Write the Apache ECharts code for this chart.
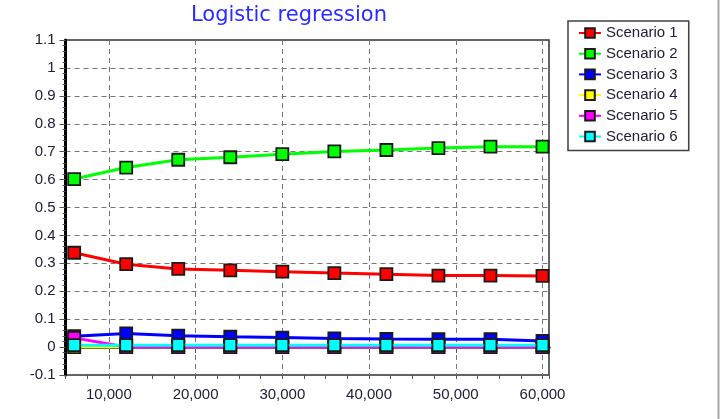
<!DOCTYPE html>
<html>
<head>
<meta charset="utf-8">
<script src="https://cdn.jsdelivr.net/npm/echarts@6/dist/echarts.min.js"></script>
<style>
html,body{margin:0;padding:0;background:#fff;}
#chart{width:721px;height:419px;}
</style>
</head>
<body>
<div id="chart"></div>
<script>
var titleText = 'Logistic regression';
var xValues = [6000, 12000, 18000, 24000, 30000, 36000, 42000, 48000, 54000, 60000];
var seriesNames = ['Scenario 1', 'Scenario 2', 'Scenario 3', 'Scenario 4', 'Scenario 5', 'Scenario 6'];
var scenario1 = [0.338, 0.297, 0.280, 0.275, 0.270, 0.265, 0.261, 0.256, 0.256, 0.255];
var scenario2 = [0.602, 0.643, 0.671, 0.680, 0.691, 0.701, 0.706, 0.713, 0.718, 0.718];
var scenario3 = [0.039, 0.049, 0.041, 0.037, 0.034, 0.031, 0.029, 0.028, 0.028, 0.022];
var scenario4 = [0.000, 0.000, 0.000, 0.000, 0.000, 0.000, 0.000, 0.000, 0.000, 0.000];
var scenario5 = [0.033, 0.000, 0.000, 0.000, 0.000, 0.000, 0.000, 0.000, 0.000, 0.000];
var scenario6 = [0.007, 0.007, 0.007, 0.007, 0.007, 0.007, 0.007, 0.007, 0.007, 0.007];
var colors = ['#ff0000', '#00ff00', '#0000ff', '#ffff00', '#ff00ff', '#00ffff'];
var allSeries = [scenario1, scenario2, scenario3, scenario4, scenario5, scenario6];

var chart = echarts.init(document.getElementById('chart'), null, {renderer: 'canvas'});

function pairs(vals) {
  return vals.map(function (v, i) { return [xValues[i], v]; });
}

var labelFont = {color: '#20203a', fontSize: 15, fontFamily: 'Liberation Sans, Arial, sans-serif'};
var gridLine = {color: '#777777', type: [5, 4], width: 1};

var option = {
  animation: false,
  backgroundColor: '#ffffff',
  title: {
    text: titleText,
    left: 186,
    top: 0,
    textStyle: {color: '#2b2bff', fontSize: 21, fontWeight: 'normal', fontFamily: 'Comic Sans MS, DejaVu Sans, sans-serif'}
  },
  legend: {
    orient: 'vertical',
    left: 568,
    top: 21,
    padding: [4.5, 11, 6.5, 10],
    itemWidth: 22,
    itemHeight: 12,
    itemGap: 5.7,
    borderColor: '#404040',
    borderWidth: 1.5,
    textStyle: {color: '#20203a', fontSize: 15, lineHeight: 15, fontFamily: 'Liberation Sans, Arial, sans-serif'},
    data: seriesNames
  },
  grid: {
    left: 65.5, right: 172, top: 40, bottom: 44,
    show: true, borderColor: '#303030', borderWidth: 1.5, backgroundColor: '#ffffff'
  },
  xAxis: [{
    type: 'value',
    min: 5000,
    max: 60750,
    axisLine: {lineStyle: {color: '#000', width: 3}},
    axisTick: {show: true, length: 6, lineStyle: {color: '#555', width: 1}},
    axisLabel: Object.assign({margin: 12, showMinLabel: false, showMaxLabel: false}, labelFont),
    splitLine: {show: true, showMinLine: false, showMaxLine: false, lineStyle: gridLine}
  }, {
    type: 'value',
    position: 'bottom',
    min: 5000,
    max: 60750,
    interval: 2500,
    axisLine: {show: false},
    axisTick: {show: true, length: 4, lineStyle: {color: '#555', width: 1}},
    axisLabel: {show: false},
    splitLine: {show: false}
  }],
  yAxis: {
    type: 'value',
    min: -0.1,
    max: 1.1,
    interval: 0.1,
    axisLine: {show: true, lineStyle: {color: '#000', width: 3}},
    axisTick: {show: true, length: 6, lineStyle: {color: '#555', width: 1}},
    minorTick: {show: true, splitNumber: 5, length: 3, lineStyle: {color: '#555', width: 1}},
    axisLabel: Object.assign({margin: 10}, labelFont),
    splitLine: {show: true, showMinLine: false, showMaxLine: false, lineStyle: gridLine}
  },
  graphic: [{
    type: 'line',
    shape: {x1: 718.5, y1: 0, x2: 718.5, y2: 419},
    style: {stroke: '#a8a8a8', lineWidth: 2}
  }],
  series: allSeries.map(function (vals, i) {
    return {
      name: seriesNames[i],
      type: 'line',
      xAxisIndex: 0,
      data: pairs(vals),
      symbol: 'rect',
      symbolSize: 12,
      showAllSymbol: true,
      lineStyle: {color: colors[i], width: 3},
      itemStyle: {color: colors[i], borderColor: '#1a1a1a', borderWidth: 1.8},
      z: 2 + i
    };
  })
};
chart.setOption(option);
</script>
</body>
</html>
